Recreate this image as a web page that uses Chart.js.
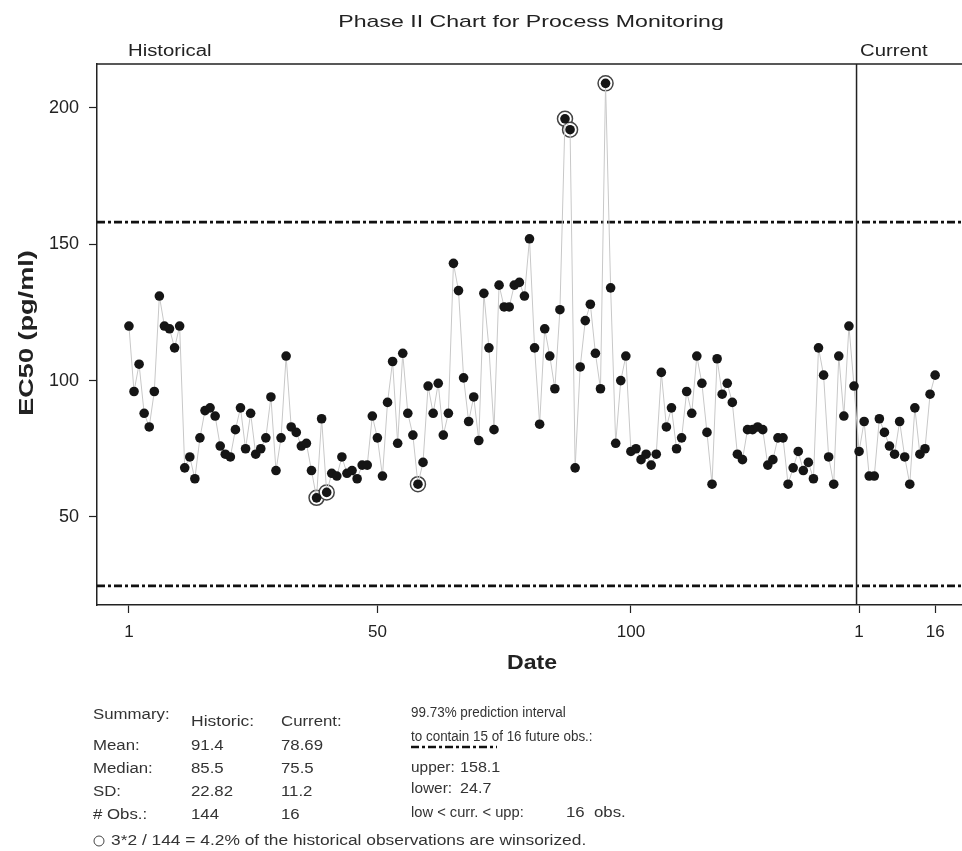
<!DOCTYPE html>
<html>
<head>
<meta charset="utf-8">
<script src="https://cdn.jsdelivr.net/npm/chart.js@4.4.0/dist/chart.umd.min.js"></script>
<style>
  html, body { margin: 0; padding: 0; background: #fff; }
  #grafica { display: block; }
</style>
</head>
<body>
<canvas id="grafica" width="962" height="851"></canvas>
<script>
// EC50 values, historical period (144 obs.)
const historico = [
    120, 96, 106, 88, 83, 96, 131, 120, 119, 112,
    120, 68, 72, 64, 79, 89, 90, 87, 76, 73,
    72, 82, 90, 75, 88, 73, 75, 79, 94, 67,
    79, 109, 83, 81, 76, 77, 67, 57, 86, 59,
    66, 65, 72, 66, 67, 64, 69, 69, 87, 79,
    65, 92, 107, 77, 110, 88, 80, 62, 70, 98,
    88, 99, 80, 88, 143, 133, 101, 85, 94, 78,
    132, 112, 82, 135, 127, 127, 135, 136, 131, 152,
    112, 84, 119, 109, 97, 126, 196, 192, 68, 105,
    122, 128, 110, 97, 209, 134, 77, 100, 109, 74,
    75, 71, 73, 69, 73, 103, 83, 90, 75, 79,
    96, 88, 109, 99, 81, 62, 108, 95, 99, 92,
    73, 71, 82, 82, 83, 82, 69, 71, 79, 79,
    62, 68, 74, 67, 70, 64, 112, 102, 72, 62,
    109, 87, 120, 98
];
// EC50 values, current period (16 obs.)
const actual = [74, 85, 65, 65, 86, 81, 76, 73, 85, 72, 62, 90, 73, 75, 95, 102];
// observation numbers that were winsorized
const winsorizados = [38, 40, 58, 87, 88, 95];

const ticksX = [1, 50, 100, 145, 160];
const etiquetasX = ['1', '50', '100', '1', '16'];
const ticksY = [50, 100, 150, 200];
const limites = [158.1, 24.7];

const resumenFilas = ['Mean:', 'Median:', 'SD:', '# Obs.:'];
const resumenHist = ['91.4', '85.5', '22.82', '144'];
const resumenAct = ['78.69', '75.5', '11.2', '16'];

const FUENTE = '"Liberation Sans", Arial, Helvetica, sans-serif';

const texto = (ctx, s, x, y, font, align, sx, color) => {
    ctx.save();
    ctx.font = font;
    ctx.fillStyle = color || '#222';
    ctx.textAlign = align;
    ctx.textBaseline = 'middle';
    ctx.translate(x, y);
    ctx.scale(sx, 1);
    ctx.fillText(s, 0, 0);
    ctx.restore();
};

const lineaPuntos = (ctx, x1, x2, y) => {
    ctx.save();
    ctx.strokeStyle = '#111';
    ctx.lineWidth = 2.6;
    ctx.setLineDash([8, 3, 3, 3]);
    ctx.beginPath();
    ctx.moveTo(x1, y);
    ctx.lineTo(x2, y);
    ctx.stroke();
    ctx.restore();
};

const anotaciones = {
    id: 'anotaciones',
    beforeDatasetsDraw(chart) {
        const { ctx, chartArea, scales } = chart;
        // prediction limits
        limites.forEach(v => lineaPuntos(ctx, chartArea.left, chartArea.right, scales.y.getPixelForValue(v)));
        // historical / current separator + top frame
        const xc = scales.x.getPixelForValue(historico.length + 0.5);
        ctx.save();
        ctx.strokeStyle = '#222';
        ctx.lineWidth = 1.5;
        ctx.beginPath();
        ctx.moveTo(xc, chartArea.top);
        ctx.lineTo(xc, chartArea.bottom);
        ctx.moveTo(chartArea.left, chartArea.top);
        ctx.lineTo(chartArea.right, chartArea.top);
        ctx.stroke();
        ctx.restore();
    },
    afterDraw(chart) {
        const ctx = chart.ctx;
        texto(ctx, 'Phase II Chart for Process Monitoring', 531, 22, '17px ' + FUENTE, 'center', 1.36);
        texto(ctx, 'Historical', 128, 52, '16px ' + FUENTE, 'left', 1.27);
        texto(ctx, 'Current', 860, 52, '16px ' + FUENTE, 'left', 1.27);
        texto(ctx, 'Date', 532, 663, 'bold 21px ' + FUENTE, 'center', 1.1);

        ctx.save();
        ctx.translate(27, 333);
        ctx.rotate(-Math.PI / 2);
        texto(ctx, 'EC50 (pg/ml)', 0, 0, 'bold 21px ' + FUENTE, 'center', 1.29);
        ctx.restore();

        // summary block
        const f = '14px ' + FUENTE;
        const c = '#333';
        const sxIzq = 1.2;
        const sxDer = 0.96;
        texto(ctx, 'Summary:', 93, 715, f, 'left', sxIzq, c);
        texto(ctx, 'Historic:', 191, 722, f, 'left', 1.25, c);
        texto(ctx, 'Current:', 281, 722, f, 'left', sxIzq, c);
        resumenFilas.forEach((fila, i) => {
            const y = 746 + i * 23;
            texto(ctx, fila, 93, y, f, 'left', sxIzq, c);
            texto(ctx, resumenHist[i], 191, y, f, 'left', sxIzq, c);
            texto(ctx, resumenAct[i], 281, y, f, 'left', sxIzq, c);
        });
        texto(ctx, '99.73% prediction interval', 411, 713, f, 'left', sxDer, c);
        texto(ctx, 'to contain 15 of 16 future obs.:', 411, 737, f, 'left', sxDer, c);
        lineaPuntos(ctx, 411, 497, 747);
        texto(ctx, 'upper:', 411, 768, f, 'left', 1.1, c);
        texto(ctx, limites[0].toFixed(1), 460, 768, f, 'left', 1.15, c);
        texto(ctx, 'lower:', 411, 789, f, 'left', 1.1, c);
        texto(ctx, limites[1].toFixed(1), 460, 789, f, 'left', 1.15, c);
        texto(ctx, 'low < curr. < upp:', 411, 813, f, 'left', 1.05, c);
        texto(ctx, actual.length + '  obs.', 566, 813, f, 'left', 1.2, c);

        ctx.save();
        ctx.strokeStyle = '#444';
        ctx.lineWidth = 1;
        ctx.beginPath();
        ctx.arc(99, 841, 5, 0, Math.PI * 2);
        ctx.stroke();
        ctx.restore();
        const pct = (winsorizados.length / historico.length * 100).toFixed(1);
        texto(ctx, '3*2 / ' + historico.length + ' = ' + pct + '% of the historical observations are winsorized.', 111, 841, f, 'left', 1.24, c);
    }
};

const puntos = historico.concat(actual).map((v, i) => ({ x: i + 1, y: v }));
const anillos = winsorizados.map(n => ({ x: n, y: historico[n - 1] }));

new Chart(document.getElementById('grafica').getContext('2d'), {
    type: 'line',
    data: {
        datasets: [{
            data: puntos,
            borderColor: '#c8c8c8',
            borderWidth: 1,
            pointRadius: 4.8,
            pointHoverRadius: 4.8,
            pointBackgroundColor: '#151515',
            pointBorderWidth: 0,
            tension: 0
        }, {
            data: anillos,
            showLine: false,
            pointRadius: 7.5,
            pointHoverRadius: 7.5,
            pointBackgroundColor: '#fff',
            pointBorderColor: '#444',
            pointBorderWidth: 1.5
        }]
    },
    options: {
        responsive: false,
        animation: false,
        devicePixelRatio: 1,
        layout: { autoPadding: false, padding: { top: 64, left: 0, right: 0, bottom: 0 } },
        plugins: {
            legend: { display: false },
            tooltip: { enabled: false },
            title: { display: false }
        },
        scales: {
            x: {
                type: 'linear',
                min: -5.3,
                max: 165.3,
                afterFit: s => {
                    s.height = 246;
                    s.paddingLeft = 0;
                    s.paddingRight = 0;
                },
                afterBuildTicks: s => { s.ticks = ticksX.map(v => ({ value: v })); },
                ticks: {
                    callback: v => etiquetasX[ticksX.indexOf(v)],
                    font: { family: FUENTE, size: 17 },
                    color: '#222',
                    padding: 9,
                    maxRotation: 0,
                    autoSkip: false
                },
                grid: { drawOnChartArea: false, tickLength: 8, color: '#222', tickWidth: 1.2 },
                border: { color: '#222', width: 1.5 }
            },
            y: {
                type: 'linear',
                min: 17.7,
                max: 216.1,
                afterFit: s => {
                    s.width = 97;
                    s.paddingTop = 0;
                    s.paddingBottom = 0;
                },
                afterBuildTicks: s => { s.ticks = ticksY.map(v => ({ value: v })); },
                ticks: {
                    font: { family: FUENTE, size: 18 },
                    color: '#222',
                    padding: 10
                },
                grid: { drawOnChartArea: false, tickLength: 8, color: '#222', tickWidth: 1.2 },
                border: { color: '#222', width: 1.5 }
            }
        }
    },
    plugins: [anotaciones]
});
</script>
</body>
</html>
